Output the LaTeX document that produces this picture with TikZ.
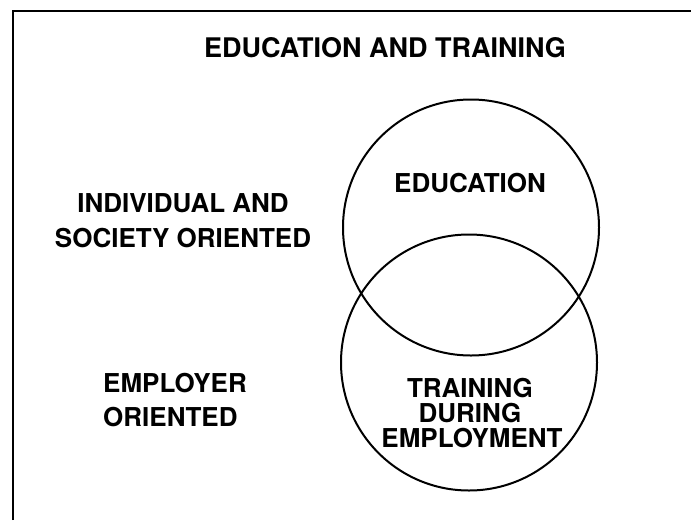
\documentclass[tikz,border=0pt]{standalone}
\usepackage{fontspec}
\setmainfont{TeX Gyre Heros}
\begin{document}
\begin{tikzpicture}[x=1pt,y=-1pt,
  lbl/.style={font=\fontsize{26}{30}\selectfont\bfseries, inner sep=0pt, anchor=base},
  lblw/.style={lbl, anchor=base west},
  ring/.style={draw=black, line width=2pt}]
\useasboundingbox (0,0) rectangle (691,520);
\fill[white] (0,0) rectangle (691,520);
% frame
\coordinate (fb) at (13,520);
\coordinate (fc) at (13,11);
\coordinate (fr) at (691,11);
\draw[line width=2.2pt] (fb) -- (fc) -- (fr);
% circles
\node[ring, circle, minimum size=256pt, inner sep=0pt] (upper) at (471,227.5) {};
\node[ring, circle, minimum size=256pt, inner sep=0pt] (lower) at (469,362.5) {};
% texts
\node[lbl, font=\fontsize{27}{30}\selectfont\bfseries] (title) at (385,57) {EDUCATION AND TRAINING};
\node[lbl] (ind1) at (183,212) {INDIVIDUAL AND};
\node[lbl] (ind2) at (183,247) {SOCIETY ORIENTED};
\node[lblw] (emp1) at (103,392) {EMPLOYER};
\node[lblw] (emp2) at (103,426) {ORIENTED};
\node[lbl] (edu) at (470,192) {EDUCATION};
\node[lbl] (tr1) at (470,397) {TRAINING};
\node[lbl] (tr2) at (470,422) {DURING};
\node[lbl] (tr3) at (472,447) {EMPLOYMENT};
\end{tikzpicture}
\end{document}
